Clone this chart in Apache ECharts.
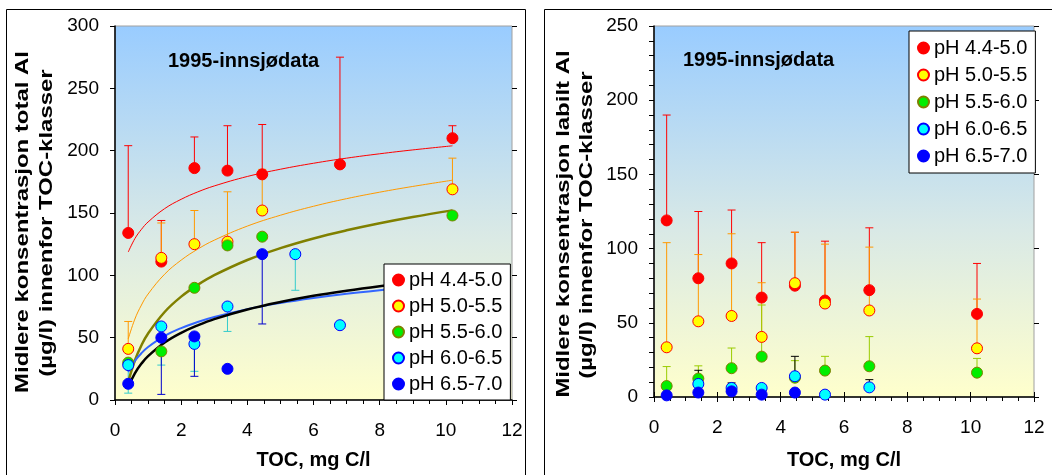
<!DOCTYPE html>
<html><head><meta charset="utf-8">
<script src="https://cdn.jsdelivr.net/npm/echarts/dist/echarts.min.js"></script>
<style>html,body{margin:0;padding:0;background:#fff}#c{width:1052px;height:475px}</style>
</head><body><div id="c"></div>
<script>
// ---------- DATA ----------
const classNames = ['pH 4.4-5.0','pH 5.0-5.5','pH 5.5-6.0','pH 6.0-6.5','pH 6.5-7.0'];
const chartTitle = '1995-innsjødata';
const xTitle = 'TOC, mg C/l';
const yTitleLeft = ['Midlere konsentrasjon total Al', '(µg/l) innenfor TOC-klasser'];
const yTitleRight = ['Midlere konsentrasjon labilt Al', '(µg/l) innenfor TOC-klasser'];

// Left panel: total Al  (x = TOC, y = mean, e = end of error bar, null = none)
const totRedX = [0.4,1.4,2.4,3.4,4.45,6.8,10.2];
const totRedY = [134,111,186,184,181,189,210];
const totRedE = [204,144,211,220,221,275,220];
const totYelX = [0.4,1.4,2.4,3.4,4.45,10.2];
const totYelY = [41,114,125,127,152,169];
const totYelE = [63,142,152,167,185,194];
const totGrnX = [0.4,1.4,2.4,3.4,4.45,10.2];
const totGrnY = [30,39,90,124,131,148];
const totGrnE = [null,null,null,null,null,null];
const totCynX = [0.4,1.4,2.4,3.4,5.45,6.8];
const totCynY = [28,59,45,75,117,60];
const totCynE = [5.5,28,23,55,88,null];
const totBluX = [0.4,1.4,2.4,3.4,4.45];
const totBluY = [13,50,51,25,117];
const totBluE = [null,4.5,19,null,61];

// Left panel trend curves
const trendX      = [0.4,0.6,0.8,1,1.5,2,2.5,3,4,5,6,7,8,9,10.2];
const trendRed    = [118.7,129.4,136.9,142.8,153.5,161.0,166.9,171.7,179.3,185.1,189.9,194.0,197.5,200.6,203.9];
const trendOrange = [49.0,64.9,76.2,85.0,100.9,112.2,121.0,128.2,139.5,148.2,155.4,161.5,166.7,171.3,176.3];
const trendOlive  = [14.5,31.7,43.9,53.4,70.6,82.9,92.3,100.1,112.3,121.8,129.6,136.1,141.8,146.8,152.1];
const trendBlue   = [22.4,31.3,37.6,42.5,51.4,57.7,62.6,66.6,72.9,77.8,81.8,85.2,88.1,90.7,93.5];
const trendBlack  = [10.5,21.4,29.2,35.2,46.1,53.9,59.9,64.9,72.6,78.6,83.6,87.7,91.3,94.5,97.9];

// Right panel: labile Al
const labX8  = [0.4,1.4,2.45,3.4,4.45,5.4,6.8,10.2];
const labRedY = [119,80,90,67,75,65,72,56];
const labRedE = [190,125,126,104,111,105,114,90];
const labYelY = [33.5,51,54.6,40.5,76.7,63,58.3,32.8];
const labYelE = [104,96,110,77,111,103,101,66];
const labGrnY = [7.4,12.4,19.4,27.2,13,17.8,20.7,16.4];
const labGrnE = [20.5,21,33,62,24.5,27.4,40.7,26];
const labCynX = [1.4,2.45,3.4,4.45,5.4,6.8];
const labCynY = [8.8,6.1,6.1,14,1.6,6.5];
const labCynE = [18,9.5,7,27.4,3,11.7];
const labBluX = [0.4,1.4,2.45,3.4,4.45];
const labBluY = [1.1,3,3.8,1.6,3];

// ---------- STYLE ----------
const FONT = '"Liberation Sans", Arial, sans-serif';
const fills   = ['#FF0000','#FFFF00','#00EE00','#00FFFF','#0000FF'];
const borders = ['#FF0000','#FF0000','#808000','#0000FF','#0000FF'];

function pts(xs, ys){ return xs.map((x,i)=>[x, ys[i]]); }
function scatter(k, xs, ys, gi){
  return {type:'scatter', name:classNames[k], xAxisIndex:gi*2, yAxisIndex:gi*2, z:3,
    symbol:'circle', symbolSize:11, data:pts(xs,ys),
    itemStyle:{color:fills[k], borderColor:borders[k], borderWidth:1, opacity:1},
    emphasis:{disabled:true}, silent:true};
}
function errbars(id, xs, ys, es, color, gi){
  const data = [];
  xs.forEach((x,i)=>{ if(es[i]!=null) data.push([x, ys[i], es[i]]); });
  return {type:'custom', name:id, xAxisIndex:gi*2, yAxisIndex:gi*2, z:2, silent:true,
    encode:{x:0, y:[1,2]}, data,
    renderItem(params, api){
      const p1 = api.coord([api.value(0), api.value(1)]);
      const p2 = api.coord([api.value(0), api.value(2)]);
      const hw = 4;
      return {type:'group', children:[
        {type:'line', shape:{x1:p1[0],y1:p1[1],x2:p2[0],y2:p2[1]}, style:{stroke:color, lineWidth:1}},
        {type:'line', shape:{x1:p2[0]-hw,y1:p2[1],x2:p2[0]+hw,y2:p2[1]}, style:{stroke:color, lineWidth:1}}
      ]};
    }};
}
function trend(id, ys, color, w){
  return {type:'line', name:id, xAxisIndex:0, yAxisIndex:0, z:2, silent:true,
    data:pts(trendX, ys), showSymbol:false, symbol:'none', smooth:0.4,
    lineStyle:{color, width:w}};
}

const bg = new echarts.graphic.LinearGradient(0,0,0,1,[
  {offset:0, color:'#99CCFF'}, {offset:0.55, color:'#D9E9E6'}, {offset:1, color:'#FFFFCC'}]);

const grids = [
  {left:115, top:26, width:397, height:379},
  {left:654, top:26, width:380, height:371}
];

function mainX(gi){
  return {type:'value', gridIndex:gi, min:0, max:12, interval:2, position:'bottom',
    axisLine:{show:true, onZero:false, lineStyle:{color:'#000', width:1.5}},
    axisTick:{show:true, length:5, lineStyle:{color:'#000', width:1}},
    minorTick:{show:true, splitNumber:4, length:4, lineStyle:{color:'#000', width:1}},
    splitLine:{show:false},
    axisLabel:{color:'#000', fontSize:19, fontFamily:FONT, margin:21},
    name:xTitle, nameLocation:'middle', nameGap:gi===0?50:53,
    nameTextStyle:{color:'#000', fontSize:20, fontWeight:'bold', fontFamily:FONT}};
}
function innerX(gi){
  return {type:'value', gridIndex:gi, min:0, max:12, interval:2, position:'top',
    offset:-grids[gi].height,
    axisLine:{show:false}, axisTick:{show:true, length:5, lineStyle:{color:'#000', width:1}},
    axisLabel:{show:false}, splitLine:{show:false}};
}
function mainY(gi){
  const max = gi===0?300:250;
  return {type:'value', gridIndex:gi, min:0, max, interval:50, position:'left',
    axisLine:{show:true, onZero:false, lineStyle:{color:'#000', width:1.5}},
    axisTick:{show:true, length:5, lineStyle:{color:'#000', width:1}},
    minorTick:{show:gi===1, splitNumber:5, length:5, lineStyle:{color:'#000', width:1}},
    splitLine:{show:false},
    axisLabel:{color:'#000', fontSize:19, fontFamily:FONT, margin:16}};
}
function innerY(gi){
  const max = gi===0?300:250;
  return {type:'value', gridIndex:gi, min:0, max, interval:50, position:'right',
    offset:-grids[gi].width,
    axisLine:{show:false}, axisTick:{show:true, length:5, lineStyle:{color:'#000', width:1}},
    axisLabel:{show:false}, splitLine:{show:false}};
}

// rotated, length-stretched axis titles (as in the original picture)
function vText(txt, x, y){
  return {type:'text', x, y, rotation:Math.PI/2, scaleX:1.26, scaleY:1, silent:true,
    style:{text:txt, font:'bold 19px ' + FONT, fill:'#000', align:'center', verticalAlign:'middle'}};
}

const legendBase = {
  orient:'vertical', icon:'circle', itemWidth:11, itemHeight:11, itemGap:6, z:10,
  backgroundColor:'#fff', borderColor:'#000', borderWidth:1, borderRadius:0,
  textStyle:{color:'#000', fontSize:20, fontFamily:FONT},
  data:classNames, selectedMode:false
};

const option = {
  animation:false,
  backgroundColor:'#fff',
  textStyle:{fontFamily:FONT},
  title:[
    {text:chartTitle, left:163, top:46, textStyle:{fontSize:20, fontWeight:'bold', color:'#000', fontFamily:FONT}},
    {text:chartTitle, left:678, top:45, textStyle:{fontSize:20, fontWeight:'bold', color:'#000', fontFamily:FONT}}
  ],
  grid:grids.map(g=>Object.assign({show:true, backgroundColor:bg, borderColor:'#A0A0A0', borderWidth:1}, g)),
  xAxis:[mainX(0), innerX(0), mainX(1), innerX(1)],
  yAxis:[mainY(0), innerY(0), mainY(1), innerY(1)],
  legend:[
    Object.assign({}, legendBase, {left:384, top:264, padding:[6,8,6,8], itemGap:6}),
    Object.assign({}, legendBase, {left:909, top:31, padding:[7,8,7,8], itemGap:7})
  ],
  graphic:[
    {type:'rect', shape:{x:6.5, y:9.5, width:519, height:500}, style:{fill:'none', stroke:'#000', lineWidth:1}, silent:true},
    {type:'rect', shape:{x:544.5, y:9.5, width:540, height:500}, style:{fill:'none', stroke:'#000', lineWidth:1}, silent:true},
    vText(yTitleLeft[0], 23, 222),
    vText(yTitleLeft[1], 46.5, 223),
    vText(yTitleRight[0], 564, 224),
    vText(yTitleRight[1], 586.5, 225)
  ],
  series:[
    trend('trend-red', trendRed, '#FF0000', 1),
    trend('trend-orange', trendOrange, '#FF9900', 1),
    trend('trend-olive', trendOlive, '#808000', 2.5),
    trend('trend-blue', trendBlue, '#3366FF', 2),
    trend('trend-black', trendBlack, '#000000', 2.5),
    errbars('e-tot-red', totRedX, totRedY, totRedE, '#FF0000', 0),
    errbars('e-tot-yel', totYelX, totYelY, totYelE, '#FF9900', 0),
    errbars('e-tot-grn', totGrnX, totGrnY, totGrnE, '#99CC00', 0),
    errbars('e-tot-cyn', totCynX, totCynY, totCynE, '#33CCCC', 0),
    errbars('e-tot-blu', totBluX, totBluY, totBluE, '#0000CC', 0),
    scatter(0, totRedX, totRedY, 0),
    scatter(1, totYelX, totYelY, 0),
    scatter(2, totGrnX, totGrnY, 0),
    scatter(3, totCynX, totCynY, 0),
    scatter(4, totBluX, totBluY, 0),
    errbars('e-lab-red', labX8, labRedY, labRedE, '#FF0000', 1),
    errbars('e-lab-yel', labX8, labYelY, labYelE, '#FF9900', 1),
    errbars('e-lab-grn', labX8, labGrnY, labGrnE, '#99CC00', 1),
    errbars('e-lab-cyn', labCynX, labCynY, labCynE, '#000000', 1),
    scatter(0, labX8, labRedY, 1),
    scatter(1, labX8, labYelY, 1),
    scatter(2, labX8, labGrnY, 1),
    scatter(3, labCynX, labCynY, 1),
    scatter(4, labBluX, labBluY, 1)
  ]
};

const chart = echarts.init(document.getElementById('c'), null, {renderer:'canvas'});
chart.setOption(option);
</script>
</body></html>
